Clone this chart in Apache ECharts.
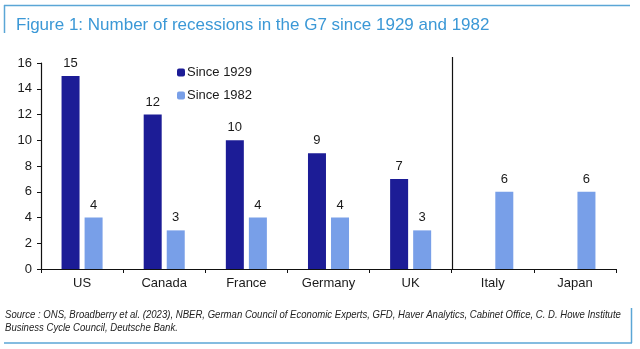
<!DOCTYPE html>
<html>
<head>
<meta charset="utf-8">
<script src="https://cdn.jsdelivr.net/npm/echarts@6/dist/echarts.min.js"></script>
<style>
html,body{margin:0;padding:0;background:#fff;}
#chart{width:640px;height:349px;}
</style>
</head>
<body>
<div id="chart"></div>
<script>
const titleText = 'Figure 1: Number of recessions in the G7 since 1929 and 1982';
const sourceLines = [
  'Source : ONS, Broadberry et al. (2023), NBER, German Council of Economic Experts, GFD, Haver Analytics, Cabinet Office, C. D. Howe Institute',
  'Business Cycle Council, Deutsche Bank.'
];
const categories = ['US', 'Canada', 'France', 'Germany', 'UK', 'Italy', 'Japan'];
const since1929 = [15, 12, 10, 9, 7, null, null];
const since1982 = [4, 3, 4, 4, 3, 6, 6];
const seriesNames = ['Since 1929', 'Since 1982'];
const yTicks = { min: 0, max: 16, interval: 2 };

const FONT = '"Liberation Sans", Arial, sans-serif';
const TXT = '#1a1a1a';
const FRAME = '#5aa6d6';

const chart = echarts.init(document.getElementById('chart'), null, { renderer: 'canvas' });
const baseGraphic = [
  { type: 'line', shape: { x1: 4, y1: 5.5, x2: 630, y2: 5.5 }, style: { stroke: FRAME, lineWidth: 1.5 } },
  { type: 'line', shape: { x1: 4.5, y1: 5, x2: 4.5, y2: 33 }, style: { stroke: FRAME, lineWidth: 1.5 } },
  { type: 'line', shape: { x1: 4, y1: 343, x2: 632, y2: 343 }, style: { stroke: FRAME, lineWidth: 1.5 } },
  { type: 'line', shape: { x1: 631.5, y1: 308, x2: 631.5, y2: 343 }, style: { stroke: FRAME, lineWidth: 1.5 } },
  { type: 'text', x: 5, y: 308.5, scaleX: 0.87, style: { text: sourceLines.join('\n'), font: 'italic 11px ' + FONT, fill: '#222', lineHeight: 12.7 } }
];
chart.setOption({
  animation: false,
  backgroundColor: '#fff',
  textStyle: { fontFamily: FONT },
  title: {
    text: titleText,
    left: 11, top: 12,
    textStyle: { fontFamily: FONT, fontSize: 17, fontWeight: 'normal', color: '#3b98d6' }
  },
  legend: {
    orient: 'vertical',
    left: 172, top: 61,
    itemWidth: 8, itemHeight: 8, itemGap: 10,
    textStyle: { fontFamily: FONT, fontSize: 13, color: TXT, padding: [0, 0, 0, -3] },
    data: seriesNames
  },
  grid: { left: 41, right: 24, top: 63, bottom: 80, containLabel: false },
  xAxis: {
    type: 'category',
    data: categories,
    boundaryGap: true,
    axisLine: { lineStyle: { color: '#111', width: 1.2 } },
    axisTick: { show: true, length: 4, lineStyle: { color: '#111' } },
    axisLabel: { fontFamily: FONT, fontSize: 13, color: TXT, margin: 8 },
    splitLine: { show: false }
  },
  yAxis: {
    type: 'value',
    min: yTicks.min, max: yTicks.max, interval: yTicks.interval,
    axisLine: { show: true, lineStyle: { color: '#111', width: 1.2 } },
    axisTick: { show: true, length: 4, lineStyle: { color: '#111' } },
    axisLabel: { fontFamily: FONT, fontSize: 13, color: TXT, margin: 9 },
    splitLine: { show: false }
  },
  series: [
    {
      name: seriesNames[0], type: 'bar', data: since1929,
      barWidth: 18, barGap: '28%',
      itemStyle: { color: '#1c1c96' },
      label: { show: true, position: 'top', distance: 6, fontFamily: FONT, fontSize: 13, color: TXT }
    },
    {
      name: seriesNames[1], type: 'bar', data: since1982,
      barWidth: 18,
      itemStyle: { color: '#789fe8' },
      label: { show: true, position: 'top', distance: 6, fontFamily: FONT, fontSize: 13, color: TXT }
    }
  ],
  graphic: baseGraphic
});

// separator between the G5 group and Italy/Japan, placed via the axis scale
const xUK = chart.convertToPixel({ xAxisIndex: 0 }, 'UK');
const xIT = chart.convertToPixel({ xAxisIndex: 0 }, 'Italy');
const sepX = Math.round((xUK + xIT) / 2) + 0.5;
const yBase = chart.convertToPixel({ yAxisIndex: 0 }, 0);
const yTop = chart.convertToPixel({ yAxisIndex: 0 }, yTicks.max) - 6;
chart.setOption({
  graphic: baseGraphic.concat([
    { type: 'line', shape: { x1: sepX, y1: yTop, x2: sepX, y2: yBase }, style: { stroke: '#111', lineWidth: 1.2 }, z: 10 }
  ])
});
</script>
</body>
</html>
